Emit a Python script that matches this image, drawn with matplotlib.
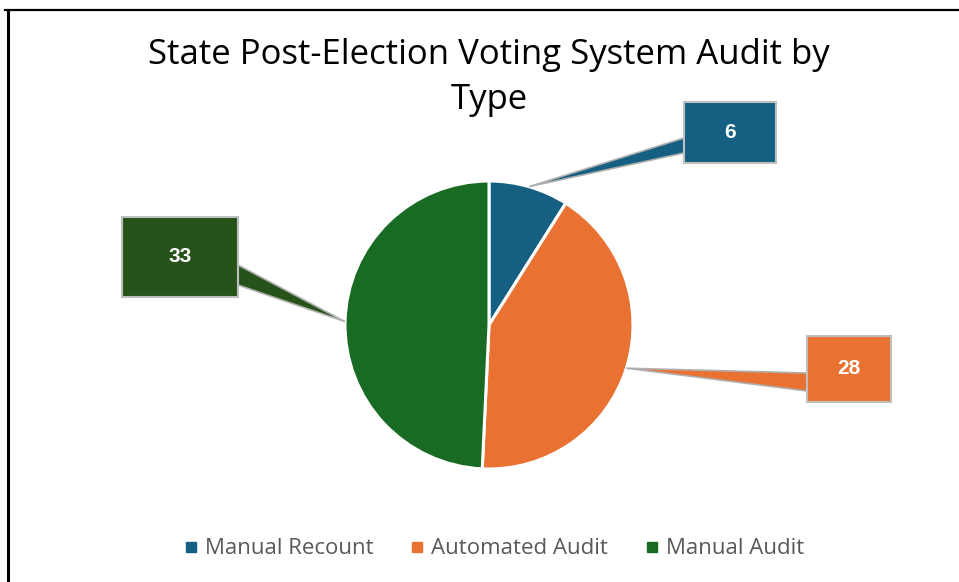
import matplotlib.pyplot as plt
from matplotlib.patches import Polygon, Rectangle
from matplotlib.lines import Line2D
import numpy as np

# data
labels = ['Manual Recount', 'Automated Audit', 'Manual Audit']
values = [6, 28, 33]
colors = ['#156082', '#e97132', '#196b24']
box_colors = ['#156082', '#e97132', '#27531a']

W, H = 959, 582
fig = plt.figure(figsize=(W / 100, H / 100), dpi=100)
ax = fig.add_axes([0, 0, 1, 1])
ax.set_xlim(0, W)
ax.set_ylim(0, H)
ax.set_aspect('equal')
ax.axis('off')

# outer frame (top and left edges only visible)
ax.add_line(Line2D([5, W], [H - 10, H - 10], color='black', lw=1.6))
ax.add_line(Line2D([8, 8], [0, H - 10], color='black', lw=2.2))

cx, cy, r = 489, H - 325, 144
wedges, _ = ax.pie(values, colors=colors, startangle=90, counterclock=False,
                   center=(cx, cy), radius=r,
                   wedgeprops=dict(edgecolor='white', linewidth=2.2))
ax.set_xlim(0, W)
ax.set_ylim(0, H)

# callout boxes (left, top, right, bottom in image pixels) and pointer base
boxes = [(684, 102, 776, 163), (807, 336, 891, 402), (122, 217, 238, 297)]
bases = [(138, 153), (373, 391), (265, 285)]
for w, val, bc, (x0, y0, x1, y1), (b0, b1) in zip(wedges, values, box_colors, boxes, bases):
    mid = np.deg2rad((w.theta1 + w.theta2) / 2)
    tip = (cx + r * np.cos(mid), cy + r * np.sin(mid))
    bx = x0 if tip[0] < x0 else x1
    tri = Polygon([tip, (bx, H - b0), (bx, H - b1)], closed=True,
                  facecolor=bc, edgecolor='#b0b0b0', lw=1.2, zorder=3)
    ax.add_patch(tri)
    rect = Rectangle((x0, H - y1), x1 - x0, y1 - y0, facecolor=bc,
                     edgecolor='#bfbfbf', lw=1.5, zorder=4)
    ax.add_patch(rect)
    ax.text((x0 + x1) / 2, H - (y0 + y1) / 2, str(val), color='white',
            fontsize=15, fontweight='bold', family='Liberation Sans',
            ha='center', va='center', zorder=5)

ax.text(489, H - 55, 'State Post-Election Voting System Audit by', fontsize=25,
        family='Open Sans', ha='center', va='center', color='black')
ax.text(489, H - 100, 'Type', fontsize=25, family='Open Sans',
        ha='center', va='center', color='black')

handles = [Line2D([], [], marker='s', linestyle='none', markersize=7.5,
                  markerfacecolor=c, markeredgecolor=c) for c in colors]
leg = fig.legend(handles, labels, loc='center', bbox_to_anchor=(0.5146, 1 - 549 / H),
                 ncol=3, frameon=False, handlelength=0.7, handletextpad=0.3,
                 columnspacing=1.6, prop={'family': 'Open Sans', 'size': 16})
for t in leg.get_texts():
    t.set_color('#595959')

fig.savefig('out.png', dpi=100)
